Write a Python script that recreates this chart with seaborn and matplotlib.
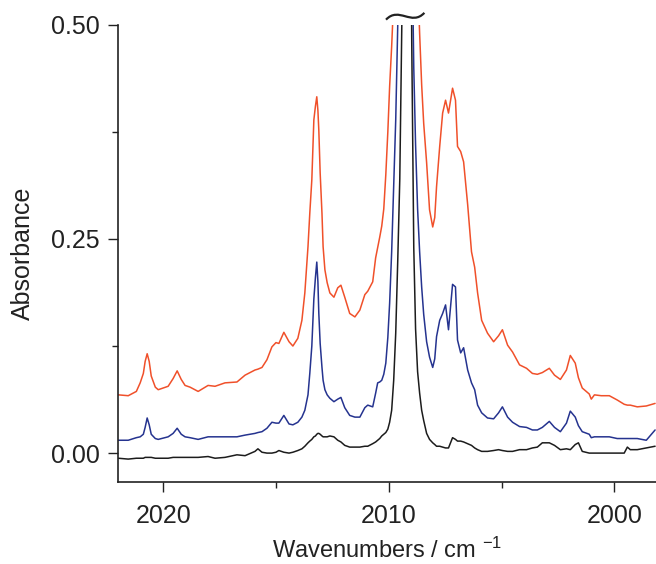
# IR spectra, CO stretch region
import pandas as pd
import matplotlib.pyplot as plt
import seaborn as sns
from matplotlib.path import Path
from matplotlib.patches import PathPatch

# wavenumber grid (cm-1)
wn = [2021.99, 2021.55, 2021.19, 2021.02, 2020.88, 2020.80, 2020.71, 2020.62, 2020.53, 2020.35,
      2020.22, 2019.78, 2019.56, 2019.38, 2019.20, 2019.03, 2018.81, 2018.45, 2018.01, 2017.70,
      2017.26, 2016.73, 2016.37, 2015.93, 2015.80, 2015.62, 2015.40, 2015.18, 2015.00, 2014.87,
      2014.65, 2014.42, 2014.25, 2014.03, 2013.85, 2013.72, 2013.58, 2013.50, 2013.41, 2013.32,
      2013.25, 2013.19, 2013.14, 2013.10, 2013.04, 2012.96, 2012.91, 2012.83, 2012.73, 2012.61,
      2012.43, 2012.26, 2012.12, 2011.95, 2011.73, 2011.50, 2011.28, 2011.06, 2010.93,
      2010.71, 2010.58, 2010.49, 2010.40, 2010.31, 2010.22, 2010.13, 2010.04, 2009.96, 2009.87,
      2009.78, 2009.69, 2009.60, 2009.51, 2009.42, 2009.34, 2009.20, 2009.07, 2008.98, 2008.89,
      2008.81, 2008.72, 2008.63, 2008.54, 2008.45, 2008.32, 2008.19, 2008.05, 2007.96, 2007.88,
      2007.74, 2007.61, 2007.48, 2007.35, 2007.17, 2007.04, 2006.95, 2006.81, 2006.68, 2006.50,
      2006.33, 2006.19, 2006.06, 2005.88, 2005.62, 2005.35, 2005.13, 2004.96, 2004.73, 2004.51,
      2004.20, 2003.89, 2003.63, 2003.41, 2003.19, 2002.88, 2002.65, 2002.39, 2002.12, 2001.95,
      2001.73, 2001.59, 2001.42, 2001.11, 2001.02, 2000.88, 2000.58, 2000.22, 1999.87, 1999.56,
      1999.42, 1999.29, 1998.98, 1998.58, 1998.19]

red = [0.068, 0.067, 0.072, 0.082, 0.093, 0.107, 0.116, 0.107, 0.090, 0.077,
       0.074, 0.078, 0.087, 0.096, 0.086, 0.079, 0.077, 0.072, 0.079, 0.078,
       0.082, 0.083, 0.091, 0.097, 0.098, 0.100, 0.109, 0.124, 0.129, 0.128,
       0.141, 0.130, 0.125, 0.134, 0.155, 0.187, 0.241, 0.280, 0.319, 0.389,
       0.405, 0.416, 0.400, 0.377, 0.327, 0.280, 0.241, 0.214, 0.199, 0.187,
       0.182, 0.193, 0.196, 0.182, 0.163, 0.159, 0.167, 0.185, 0.189,
       0.200, 0.228, 0.240, 0.252, 0.265, 0.285, 0.325, 0.375, 0.428, 0.475,
       0.53, 0.60, 0.66, 0.70, 0.73, 0.75, 0.76, 0.75, 0.73, 0.69,
       0.63, 0.56, 0.49, 0.43, 0.385, 0.339, 0.284, 0.264, 0.275, 0.311,
       0.358, 0.397, 0.412, 0.397, 0.426, 0.412, 0.358, 0.352, 0.340, 0.290,
       0.235, 0.217, 0.187, 0.155, 0.140, 0.130, 0.137, 0.144, 0.126, 0.118,
       0.103, 0.099, 0.093, 0.092, 0.094, 0.099, 0.091, 0.086, 0.097, 0.114,
       0.105, 0.088, 0.076, 0.069, 0.063, 0.068, 0.067, 0.067, 0.062, 0.057,
       0.056, 0.056, 0.054, 0.055, 0.058]

blue = [0.015, 0.015, 0.018, 0.019, 0.022, 0.030, 0.041, 0.033, 0.022, 0.017,
        0.016, 0.019, 0.023, 0.029, 0.022, 0.019, 0.018, 0.016, 0.019, 0.019,
        0.019, 0.019, 0.021, 0.023, 0.024, 0.025, 0.029, 0.036, 0.035, 0.035,
        0.044, 0.034, 0.033, 0.036, 0.042, 0.050, 0.068, 0.093, 0.125, 0.180,
        0.205, 0.223, 0.200, 0.163, 0.128, 0.100, 0.085, 0.074, 0.068, 0.064,
        0.060, 0.063, 0.065, 0.053, 0.044, 0.042, 0.042, 0.053, 0.056,
        0.054, 0.070, 0.082, 0.083, 0.085, 0.092, 0.105, 0.135, 0.175, 0.235,
        0.31, 0.389, 0.50, 0.62, 0.75, 0.85, 0.90, 0.85, 0.62, 0.45,
        0.36, 0.285, 0.235, 0.194, 0.162, 0.130, 0.112, 0.100, 0.110, 0.136,
        0.155, 0.163, 0.173, 0.144, 0.197, 0.194, 0.132, 0.117, 0.123, 0.097,
        0.082, 0.074, 0.056, 0.047, 0.041, 0.040, 0.047, 0.054, 0.042, 0.036,
        0.031, 0.030, 0.027, 0.027, 0.030, 0.037, 0.030, 0.025, 0.035, 0.049,
        0.042, 0.032, 0.025, 0.022, 0.018, 0.019, 0.019, 0.019, 0.017, 0.017,
        0.017, 0.017, 0.017, 0.015, 0.027]

black = [-0.006, -0.007, -0.006, -0.006, -0.006, -0.005, -0.005, -0.005, -0.005, -0.006,
         -0.006, -0.006, -0.005, -0.005, -0.005, -0.005, -0.005, -0.005, -0.004, -0.006,
         -0.005, -0.002, -0.003, 0.002, 0.005, 0.001, 0.000, 0.000, 0.001, 0.003,
         0.001, 0.000, 0.001, 0.003, 0.005, 0.008, 0.012, 0.014, 0.016, 0.019,
         0.020, 0.022, 0.023, 0.023, 0.022, 0.020, 0.019, 0.019, 0.019, 0.020,
         0.019, 0.015, 0.013, 0.009, 0.007, 0.007, 0.007, 0.008, 0.008,
         0.011, 0.013, 0.015, 0.017, 0.020, 0.022, 0.024, 0.028, 0.036, 0.050,
         0.085, 0.140, 0.225, 0.32, 0.50, 0.90, 1.40, 0.90, 0.48, 0.24,
         0.145, 0.095, 0.070, 0.050, 0.038, 0.023, 0.016, 0.012, 0.010, 0.008,
         0.008, 0.007, 0.006, 0.006, 0.018, 0.016, 0.014, 0.014, 0.013, 0.011,
         0.009, 0.006, 0.004, 0.002, 0.002, 0.003, 0.004, 0.003, 0.002, 0.002,
         0.004, 0.004, 0.006, 0.007, 0.012, 0.012, 0.009, 0.004, 0.005, 0.004,
         0.010, 0.012, 0.002, 0.000, 0.000, 0.000, 0.000, 0.000, 0.000, 0.000,
         0.007, 0.004, 0.004, 0.006, 0.008]

series = ["red", "blue", "black"]
colors = {"red": "#f0502a", "blue": "#25338f", "black": "#1c1c1c"}

df = pd.concat([
    pd.DataFrame({"wn": wn, "A": red, "s": "red"}),
    pd.DataFrame({"wn": wn, "A": blue, "s": "blue"}),
    pd.DataFrame({"wn": wn, "A": black, "s": "black"}),
])

sns.set_style("ticks")
plt.rcParams['font.family'] = ['Liberation Sans', 'DejaVu Sans']
plt.rcParams['mathtext.fontset'] = 'custom'
plt.rcParams['mathtext.rm'] = 'Liberation Sans'
plt.rcParams['mathtext.it'] = 'Liberation Sans'

fig = plt.figure(figsize=(6.56, 5.64), dpi=100)
ax = fig.add_axes([0.180, 0.145, 0.820, 0.811])

sns.lineplot(data=df, x="wn", y="A", hue="s", hue_order=series, palette=colors,
             estimator=None, linewidth=1.1, legend=False, ax=ax)

ax.set_xlim(2022.0, 1998.15)
ax.set_ylim(-0.034, 0.50)

ax.set_xticks([2020, 2010, 2000])
ax.set_xticks([2015, 2005], minor=True)
ax.set_yticks([0.0, 0.25, 0.5])
ax.set_yticklabels(["0.00", "0.25", "0.50"])
ax.set_yticks([0.125, 0.375], minor=True)

ax.tick_params(axis='both', which='major', length=7, width=1, labelsize=18, color='#222222', labelcolor='#222222')
ax.tick_params(axis='both', which='minor', length=4, width=1, color='#222222')
ax.tick_params(axis='x', pad=9)
ax.tick_params(axis='y', pad=6)

sns.despine(ax=ax, top=True, right=True)
for sp in ["left", "bottom"]:
    ax.spines[sp].set_linewidth(1.2)
    ax.spines[sp].set_color('#222222')

ax.set_xlabel(r"Wavenumbers / cm $^{-1}$", fontsize=17, color='#222222', labelpad=7)
ax.set_ylabel("Absorbance", fontsize=18, color='#222222', labelpad=12)

# axis break mark above the clipped central band
bx0, bw = 2010.12, -1.7
by, bh = 0.510, 0.0075
brk = Path([(bx0, by - 0.004), (bx0 + bw / 3, by + bh * 1.6), (bx0 + 2 * bw / 3, by - bh * 1.6),
            (bx0 + bw, by + 0.004)],
           [Path.MOVETO, Path.CURVE4, Path.CURVE4, Path.CURVE4])
ax.add_patch(PathPatch(brk, fill=False, lw=1.6, edgecolor='#222222', clip_on=False))

fig.savefig("out.png", dpi=100)
